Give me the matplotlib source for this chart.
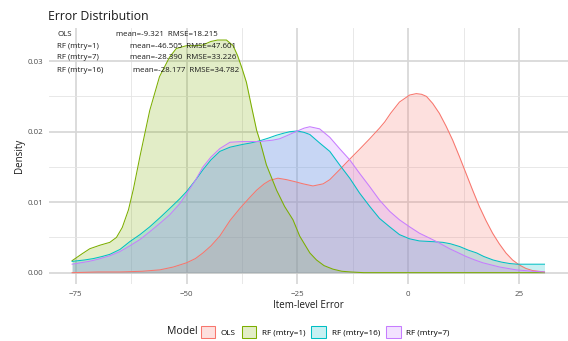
import matplotlib
matplotlib.use("Agg")
import matplotlib.pyplot as plt
from matplotlib.patches import Patch
from matplotlib.colors import to_rgba

plt.rcParams['font.family'] = ['Open Sans', 'DejaVu Sans']

# density curves per model (error, density)
ols_x = [-75.8, -70, -65, -60, -56, -53, -51.5, -50, -48, -46.3, -44.5, -42.5, -40.2, -38, -36,
         -34.2, -32.5, -31.2, -29.4, -27.5, -25.5, -23.7, -21.5, -19.2, -17.7, -15.5, -13.2, -11,
         -8.7, -6.5, -5.3, -4, -2, 0.3, 1.8, 3, 4.1, 5.5, 7, 8.5, 10, 11.5, 13, 14.5, 16, 17.5,
         19, 20.5, 22, 23.5, 25, 26.5, 28, 30.7]
ols_d = [0.0, 0.0001, 0.0001, 0.0002, 0.0004, 0.0008, 0.0011, 0.0014, 0.0020, 0.0028, 0.0038,
         0.0052, 0.0074, 0.0091, 0.0105, 0.0117, 0.0126, 0.0131, 0.0134, 0.0132, 0.0129, 0.0126,
         0.0123, 0.0126, 0.0132, 0.0146, 0.0161, 0.0175, 0.0190, 0.0205, 0.0214, 0.0226, 0.0242,
         0.0252, 0.0254, 0.0253, 0.0250, 0.0240, 0.0226, 0.0208, 0.0188, 0.0165, 0.0141, 0.0117,
         0.0094, 0.0074, 0.0056, 0.0041, 0.0028, 0.0018, 0.0011, 0.0006, 0.0003, 0.0001]

rf1_x = [-75.8, -73.5, -71.8, -69.5, -67.3, -65.8, -64.5, -63.1, -62.0, -60.5, -58.3, -56.1,
         -53.8, -52.3, -50.0, -48.0, -46.3, -44.5, -43.0, -41.0, -39.5, -38.5, -37.5, -36.5,
         -35.4, -34.2, -33.5, -32.0, -29.7, -27.9, -26.0, -24.5, -22.2, -20.7, -19.0, -17.0,
         -15.0, -13.0, -10.0, -5.0, 0.0, 10.0, 20.0, 30.7]
rf1_d = [0.0017, 0.0027, 0.0034, 0.0039, 0.0043, 0.0050, 0.0064, 0.0089, 0.0118, 0.0165, 0.0230,
         0.0278, 0.0306, 0.0318, 0.0322, 0.0322, 0.0323, 0.0328, 0.0330, 0.0330, 0.0322, 0.0308,
         0.0290, 0.0270, 0.0237, 0.0202, 0.0188, 0.0153, 0.0117, 0.0094, 0.0075, 0.0052, 0.0028,
         0.0018, 0.0010, 0.0005, 0.0002, 0.0001, 0.0, 0.0, 0.0, 0.0, 0.0, 0.0]

rf16_x = [-75.8, -73, -71, -69, -67.3, -65, -62.8, -60.5, -58.3, -56, -53.8, -51.5, -50, -48,
          -46.3, -44.5, -42.5, -40.2, -37.3, -35.5, -33.5, -31.5, -29.7, -28, -26.7, -25, -23.5,
          -22.2, -20, -17.7, -15.5, -13.2, -11, -8.7, -6.5, -4.2, -2, 0.3, 2.5, 5.5, 7.8, 9.5,
          11.6, 13.5, 15.4, 17, 19.1, 21, 22.8, 24.5, 26.6, 30.7]
rf16_d = [0.0016, 0.0018, 0.0020, 0.0023, 0.0026, 0.0033, 0.0044, 0.0054, 0.0065, 0.0078, 0.0091,
          0.0105, 0.0115, 0.0131, 0.0146, 0.0160, 0.0172, 0.0178, 0.0182, 0.0184, 0.0187, 0.0191,
          0.0195, 0.0198, 0.0200, 0.0201, 0.0199, 0.0196, 0.0184, 0.0172, 0.0153, 0.0134, 0.0113,
          0.0094, 0.0077, 0.0065, 0.0054, 0.0048, 0.0045, 0.0044, 0.0043, 0.0041, 0.0037, 0.0032,
          0.0028, 0.0023, 0.0018, 0.0015, 0.0013, 0.0012, 0.0012, 0.0012]

rf7_x = [-75.8, -72, -70, -67.3, -65, -62.8, -60.5, -58.3, -56, -53.8, -51.5, -50, -48, -46.3,
         -44.5, -42.5, -40.2, -37.3, -35.5, -33.5, -30.5, -29, -27.5, -25, -23.5, -22.2, -20,
         -17.7, -15.5, -13.2, -11, -8.7, -6.5, -4.2, -2, 0.3, 2.5, 4.8, 6.7, 9.3, 11, 13, 15,
         16.8, 18.7, 20.6, 24.3, 28, 30.7]
rf7_d = [0.0012, 0.0016, 0.0019, 0.0024, 0.0030, 0.0038, 0.0047, 0.0058, 0.0070, 0.0082, 0.0098,
         0.0112, 0.0131, 0.0150, 0.0164, 0.0176, 0.0185, 0.0186, 0.0186, 0.0186, 0.0188, 0.0190,
         0.0194, 0.0201, 0.0205, 0.0207, 0.0204, 0.0192, 0.0176, 0.0160, 0.0141, 0.0122, 0.0103,
         0.0087, 0.0075, 0.0065, 0.0056, 0.0049, 0.0043, 0.0034, 0.0029, 0.0023, 0.0018, 0.0014,
         0.0011, 0.0008, 0.0004, 0.0002, 0.0001]

models = ["OLS", "RF (mtry=1)", "RF (mtry=16)", "RF (mtry=7)"]
colors = ["#F8766D", "#7CAE00", "#00BFC4", "#C77CFF"]
curves = [(ols_x, ols_d), (rf1_x, rf1_d), (rf16_x, rf16_d), (rf7_x, rf7_d)]

# summary stats shown in the corner
stat_names = ["OLS", "RF (mtry=1)", "RF (mtry=7)", "RF (mtry=16)"]
stat_mean = [-9.321, -46.505, -28.390, -28.177]
stat_rmse = [18.215, 47.601, 33.226, 34.782]
stat_row_y = [34.3, 46.0, 57.7, 70.0]
stat_col_x = [116, 130, 130, 133.3]

fig = plt.figure(figsize=(5.68, 3.41), dpi=100)
ax = fig.add_axes([48.6 / 568, (341 - 284.3) / 341, (568 - 48.6) / 568, (284.3 - 28.4) / 341])

for (xs, ds), c in zip(curves, colors):
    ax.fill_between(xs, 0, ds, color=c, alpha=0.22, lw=0, zorder=2)
    ax.plot(xs, ds, color=c, lw=0.75, zorder=3)

ax.set_xlim(-81.1, 36.0)
ax.set_ylim(-0.00165, 0.03465)
ax.set_xticks([-75, -50, -25, 0, 25])
ax.set_xticks([-62.5, -37.5, -12.5, 12.5], minor=True)
ax.set_yticks([0, 0.01, 0.02, 0.03])
ax.set_yticks([0.005, 0.015, 0.025], minor=True)
ax.set_yticklabels(["0.00", "0.01", "0.02", "0.03"])
ax.grid(which='major', color='#d6d6d6', lw=1.2, zorder=0)
ax.grid(which='minor', color='#e4e4e4', lw=0.6, zorder=0)
ax.set_axisbelow(True)
ax.tick_params(which='both', length=0, labelsize=5.7, labelcolor='#4d4d4d')
ax.tick_params(axis='x', pad=4.5)
ax.tick_params(axis='y', pad=3.5)
for s in ax.spines.values():
    s.set_visible(False)

ax.set_xlabel("Item-level Error", fontsize=7, labelpad=1.5, color='#1a1a1a')
ax.set_ylabel("Density", fontsize=7, labelpad=2, color='#1a1a1a')
fig.text(48 / 568, 1 - 16 / 341, "Error Distribution", fontsize=8.8, va='center', ha='left',
         color='#1a1a1a')

for name, m, r, yy, xx in zip(stat_names, stat_mean, stat_rmse, stat_row_y, stat_col_x):
    fig.text(57 / 568, 1 - yy / 341, name, fontsize=5.7, va='center', ha='left', color='#1a1a1a')
    fig.text(xx / 568, 1 - yy / 341, f"mean={m:.3f}  RMSE={r:.3f}",
             fontsize=5.7, va='center', ha='left', color='#1a1a1a')

handles = [Patch(facecolor=to_rgba(c, 0.22), edgecolor=c, lw=0.75) for c in colors]
fig.text(166.7 / 568, 1 - 332 / 341, "Model", fontsize=7.5, va='center', ha='left', color='#1a1a1a')
fig.legend(handles, models, loc='center left', bbox_to_anchor=(200.5 / 568, 1 - 332 / 341),
           ncol=4, frameon=False, fontsize=5.9, borderpad=0, handlelength=1.8,
           handleheight=1.8, handletextpad=0.7, columnspacing=0.7, borderaxespad=0)

fig.savefig("out.png", dpi=100)
